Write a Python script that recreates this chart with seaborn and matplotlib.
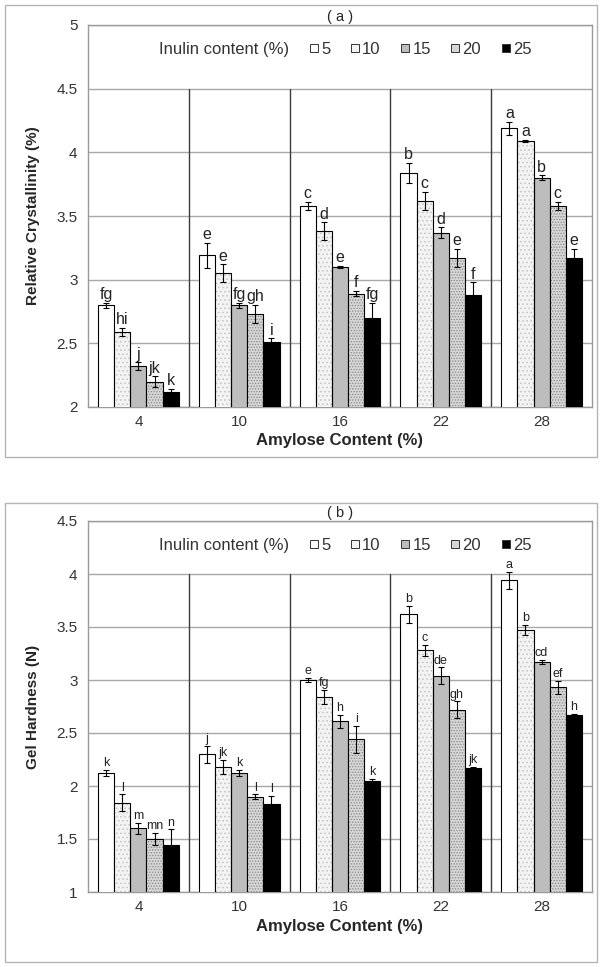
import pandas as pd
import matplotlib
matplotlib.use("Agg")
import matplotlib.pyplot as plt
import seaborn as sns
from matplotlib.patches import Rectangle
from matplotlib.lines import Line2D
from matplotlib.ticker import FixedLocator

# categories
amylose = ["4", "10", "16", "22", "28"]
inulin = ["5", "10", "15", "20", "25"]

# (a) relative crystallinity (%) - one list per inulin level, across amylose
cryst_5 = [2.80, 3.19, 3.58, 3.84, 4.19]
cryst_10 = [2.59, 3.05, 3.38, 3.62, 4.09]
cryst_15 = [2.32, 2.80, 3.10, 3.37, 3.80]
cryst_20 = [2.20, 2.73, 2.89, 3.17, 3.58]
cryst_25 = [2.12, 2.51, 2.70, 2.88, 3.17]
cryst_err = [[0.02, 0.10, 0.03, 0.08, 0.05],
             [0.03, 0.07, 0.07, 0.07, 0.01],
             [0.03, 0.02, 0.01, 0.04, 0.02],
             [0.04, 0.07, 0.02, 0.07, 0.03],
             [0.02, 0.03, 0.12, 0.10, 0.07]]
cryst_lab = [["fg", "e", "c", "b", "a"],
             ["hi", "e", "d", "c", "a"],
             ["j", "fg", "e", "d", "b"],
             ["jk", "gh", "f", "e", "c"],
             ["k", "i", "fg", "f", "e"]]

# (b) gel hardness (N)
hard_5 = [2.12, 2.30, 3.00, 3.62, 3.94]
hard_10 = [1.84, 2.18, 2.84, 3.28, 3.47]
hard_15 = [1.60, 2.12, 2.61, 3.04, 3.17]
hard_20 = [1.50, 1.90, 2.44, 2.72, 2.93]
hard_25 = [1.44, 1.83, 2.05, 2.17, 2.67]
hard_err = [[0.03, 0.08, 0.02, 0.08, 0.08],
            [0.08, 0.07, 0.07, 0.05, 0.05],
            [0.05, 0.03, 0.06, 0.08, 0.02],
            [0.06, 0.02, 0.13, 0.08, 0.06],
            [0.15, 0.08, 0.02, 0.01, 0.01]]
hard_lab = [["k", "j", "e", "b", "a"],
            ["l", "jk", "fg", "c", "b"],
            ["m", "k", "h", "de", "cd"],
            ["mn", "l", "i", "gh", "ef"],
            ["n", "l", "k", "jk", "h"]]

face = ["#ffffff", "#f3f3f3", "#bdbdbd", "#d6d6d6", "#000000"]
hatch = [None, "....", None, "......", None]
hatch_col = [None, "#c4c4c4", None, "#8a8a8a", None]


def long_df(series, errs, labs):
    rows = []
    for i, (vals, ee, ll) in enumerate(zip(series, errs, labs)):
        for j, a in enumerate(amylose):
            rows.append({"amylose": a, "inulin": inulin[i], "value": vals[j],
                         "err": ee[j], "lab": ll[j]})
    return pd.DataFrame(rows)


def draw(ax, df, ylim, ylabel, title, sep_top, lab_size, leg_y):
    sns.barplot(data=df, x="amylose", y="value", hue="inulin", order=amylose,
                hue_order=inulin, palette=face, saturation=1, edgecolor="black",
                linewidth=0.8, width=0.8, errorbar=None, legend=False, ax=ax, zorder=3)
    bar_groups = list(ax.containers)
    for i, cont in enumerate(bar_groups):
        sub = df[df["inulin"] == inulin[i]].set_index("amylose").loc[amylose]
        for j, bar in enumerate(cont):
            if hatch[i]:
                bar.set_hatch(hatch[i])
                bar.set_edgecolor(hatch_col[i])
                bar.set_linewidth(0)
                ax.add_patch(Rectangle(bar.get_xy(), bar.get_width(), bar.get_height(),
                                       fill=False, edgecolor="black", lw=0.8, zorder=4))
            x = bar.get_x() + bar.get_width() / 2
            v, e = sub["value"].iloc[j], sub["err"].iloc[j]
            ax.errorbar(x, v, yerr=e, fmt="none", ecolor="black", elinewidth=0.8,
                        capsize=2.2, capthick=0.8, zorder=5)
            ax.annotate(sub["lab"].iloc[j], (x, v + e), xytext=(0, 0.5),
                        textcoords="offset points", ha="center", va="bottom",
                        fontsize=lab_size, color="#222222", zorder=6)

    ax.set_xlim(-0.5, 4.5)
    ax.set_ylim(*ylim)
    ax.yaxis.grid(True, color="#a8a8a8", lw=1, zorder=0)
    ax.set_axisbelow(True)
    frac = (sep_top - ylim[0]) / (ylim[1] - ylim[0])
    for b in [0.5, 1.5, 2.5, 3.5]:
        ax.axvline(b, ymin=0, ymax=frac, color="#3c3c3c", lw=1, zorder=1)
    for s in ax.spines.values():
        s.set_color("#9a9a9a")
        s.set_linewidth(1)
    ax.tick_params(axis="x", which="major", length=0, labelsize=11, pad=6, colors="#333333")
    ax.xaxis.set_minor_locator(FixedLocator([-0.5, 0.5, 1.5, 2.5, 3.5, 4.5]))
    ax.tick_params(axis="x", which="minor", length=4, color="#9a9a9a", direction="out")
    ax.tick_params(axis="y", length=4, colors="#9a9a9a", labelcolor="#333333", labelsize=11)
    ax.set_xlabel("Amylose Content (%)", fontsize=12, fontweight="bold", labelpad=3)
    ax.set_ylabel(ylabel, fontsize=11, fontweight="bold", labelpad=12)
    ax.set_title(title, fontsize=10.5, pad=3)

    handles = [Line2D([], [], linestyle="none", marker=None)] + [
        Line2D([], [], linestyle="none", marker="s", markersize=5.5,
               markerfacecolor=face[i], markeredgecolor="#333333", markeredgewidth=0.7)
        for i in range(5)]
    ax.legend(handles=handles, labels=["Inulin content (%)"] + inulin, ncol=6,
              loc="center", bbox_to_anchor=(0.5, leg_y), frameon=False,
              handlelength=0.45, handletextpad=0.2, columnspacing=1.25,
              fontsize=12, labelcolor="#333333")


sns.set_style("white")
plt.rcParams["font.family"] = ["Liberation Sans", "DejaVu Sans"]
plt.rcParams["hatch.linewidth"] = 0.6

W, H = 602, 967
fig = plt.figure(figsize=(W / 100, H / 100), dpi=100)

ax_a = fig.add_axes([88 / W, (H - 407) / H, 504 / W, 382 / H])
ax_b = fig.add_axes([88 / W, (H - 892) / H, 504 / W, 371 / H])

df_a = long_df([cryst_5, cryst_10, cryst_15, cryst_20, cryst_25], cryst_err, cryst_lab)
df_b = long_df([hard_5, hard_10, hard_15, hard_20, hard_25], hard_err, hard_lab)

draw(ax_a, df_a, (2, 5), "Relative Crystallinity (%)", "( a )", 4.5, 11.5, 0.935)
draw(ax_b, df_b, (1, 4.5), "Gel Hardness (N)", "( b )", 4.0, 9, 0.935)

ax_a.set_yticks([2, 2.5, 3, 3.5, 4, 4.5, 5])
ax_a.set_yticklabels(["2", "2.5", "3", "3.5", "4", "4.5", "5"])
ax_b.set_yticks([1, 1.5, 2, 2.5, 3, 3.5, 4, 4.5])
ax_b.set_yticklabels(["1", "1.5", "2", "2.5", "3", "3.5", "4", "4.5"])

# panel frames
fig.add_artist(Rectangle((5 / W, (H - 457) / H), 592 / W, 452 / H, transform=fig.transFigure,
                         fill=False, edgecolor="#b4b4b4", lw=1))
fig.add_artist(Rectangle((5 / W, 5 / H), 592 / W, 459 / H, transform=fig.transFigure,
                         fill=False, edgecolor="#b4b4b4", lw=1))

fig.savefig("out.png", dpi=100)
